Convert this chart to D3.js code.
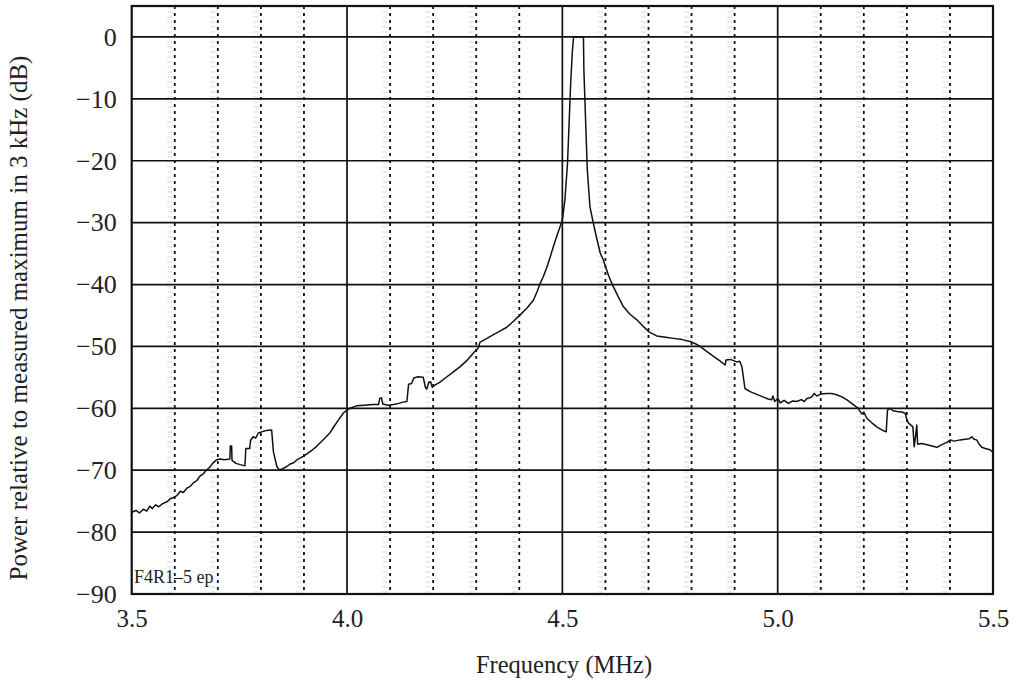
<!DOCTYPE html>
<html><head><meta charset="utf-8">
<script src="https://cdn.jsdelivr.net/npm/d3@7"></script>
<style>
html,body{margin:0;padding:0;background:#fff;}
svg text{font-family:"Liberation Serif","Times New Roman",serif;fill:#222;}
</style></head>
<body><svg id="chart" width="1015" height="682"></svg>
<script>
const freq = [3.500,3.510,3.518,3.527,3.535,3.542,3.548,3.555,3.563,3.572,3.582,3.590,3.597,3.605,3.613,3.620,3.628,3.636,3.644,3.651,3.658,3.666,3.673,3.680,3.688,3.697,3.705,3.715,3.728,3.729,3.732,3.733,3.742,3.752,3.763,3.765,3.774,3.776,3.782,3.788,3.794,3.802,3.812,3.825,3.829,3.837,3.842,3.850,3.860,3.868,3.876,3.884,3.892,3.900,3.910,3.920,3.930,3.940,3.950,3.961,3.970,3.980,3.991,4.000,4.010,4.022,4.040,4.060,4.073,4.076,4.080,4.083,4.095,4.108,4.120,4.130,4.139,4.143,4.150,4.155,4.165,4.177,4.182,4.185,4.190,4.194,4.198,4.203,4.215,4.232,4.247,4.262,4.278,4.293,4.305,4.309,4.325,4.340,4.356,4.371,4.387,4.402,4.418,4.433,4.441,4.448,4.456,4.464,4.472,4.479,4.488,4.495,4.500,4.506,4.512,4.516,4.519,4.523,4.526,4.549,4.550,4.555,4.558,4.564,4.572,4.580,4.588,4.595,4.607,4.618,4.630,4.642,4.657,4.673,4.687,4.700,4.719,4.740,4.758,4.778,4.797,4.810,4.820,4.835,4.851,4.865,4.878,4.880,4.890,4.905,4.912,4.917,4.924,4.936,4.950,4.967,4.978,4.986,4.989,4.993,5.000,5.006,5.015,5.025,5.035,5.044,5.055,5.062,5.068,5.078,5.085,5.091,5.100,5.114,5.125,5.137,5.150,5.160,5.172,5.187,5.195,5.200,5.207,5.218,5.230,5.242,5.252,5.255,5.261,5.268,5.277,5.288,5.296,5.300,5.304,5.314,5.317,5.320,5.323,5.325,5.335,5.347,5.358,5.370,5.380,5.393,5.401,5.410,5.424,5.435,5.445,5.451,5.456,5.462,5.468,5.474,5.482,5.493,5.500];
const power = [-76.8,-76.5,-76.9,-76.3,-76.6,-75.8,-76.2,-75.6,-75.9,-75.4,-75.1,-74.6,-74.4,-74.1,-73.4,-73.6,-72.9,-72.6,-72.0,-71.7,-71.0,-70.6,-70.0,-69.6,-68.9,-68.3,-68.2,-68.3,-68.2,-66.1,-66.1,-68.4,-68.9,-69.1,-69.3,-66.5,-66.5,-65.2,-64.6,-64.8,-64.0,-63.8,-63.6,-63.5,-67.0,-69.4,-69.9,-69.8,-69.4,-69.0,-68.8,-68.3,-68.0,-67.7,-67.2,-66.7,-66.1,-65.4,-64.7,-63.9,-62.9,-61.9,-60.8,-60.3,-59.9,-59.6,-59.5,-59.4,-59.4,-58.4,-58.3,-59.3,-59.5,-59.4,-59.2,-59.0,-58.9,-56.1,-56.0,-55.1,-54.9,-55.0,-56.6,-56.9,-55.8,-55.7,-56.6,-56.3,-55.8,-54.9,-54.1,-53.3,-52.3,-51.1,-50.2,-49.3,-48.7,-48.1,-47.5,-46.9,-45.9,-44.9,-43.8,-42.5,-41.2,-39.9,-38.7,-37.2,-35.5,-33.9,-32.0,-30.6,-29.6,-26.3,-20.4,-13.4,-8.0,-2.6,0,0,-5.3,-15.6,-21.5,-27.4,-30.1,-32.6,-34.9,-36.0,-38.5,-40.3,-42.0,-43.6,-44.8,-45.7,-46.7,-47.6,-48.3,-48.5,-48.7,-48.9,-49.2,-49.6,-50.0,-50.8,-51.6,-52.3,-53.0,-52.2,-52.1,-52.5,-52.4,-53.3,-56.8,-57.3,-57.7,-58.2,-58.5,-58.6,-58.0,-58.9,-58.4,-59.1,-58.7,-59.2,-58.8,-58.9,-58.6,-58.9,-58.4,-58.2,-57.6,-58.0,-57.7,-57.6,-57.6,-57.8,-58.2,-58.6,-59.2,-60.0,-60.9,-60.6,-61.6,-62.3,-63.0,-63.5,-63.8,-60.3,-60.0,-60.4,-60.5,-60.6,-60.8,-61.8,-62.4,-63.0,-66.2,-64.6,-62.7,-65.8,-65.7,-65.9,-66.1,-66.3,-65.9,-65.5,-65.1,-65.3,-65.1,-65.0,-64.9,-64.6,-65.0,-65.1,-65.8,-66.3,-66.5,-66.7,-67.1];
const xTicks = [3.5, 4.0, 4.5, 5.0, 5.5];
const yTicks = [0, -10, -20, -30, -40, -50, -60, -70, -80, -90];
const majorX = [4.0, 4.5, 5.0];
const minorX = [3.6,3.7,3.8,3.9,4.1,4.2,4.3,4.4,4.6,4.7,4.8,4.9,5.1,5.2,5.3,5.4];
const xTitle = "Frequency (MHz)";
const yTitle = "Power relative to measured maximum in 3 kHz (dB)";
const note = "F4R1–5 ep";

const svg = d3.select("#chart");
const L = 131.7, R = 993, T = 6, B = 594;
const x = d3.scaleLinear().domain([3.5, 5.5]).range([L, R]);
const y = d3.scaleLinear().domain([-90, 5]).range([B, T]);
const FONT = '"Liberation Serif","Times New Roman",serif';

// faint scan shading beside the dashed lines
svg.append("g").selectAll("line").data(minorX).join("line")
  .attr("x1", d => x(d) - 5).attr("x2", d => x(d) - 5).attr("y1", T).attr("y2", B)
  .attr("stroke", "#ececec").attr("stroke-width", 5).attr("stroke-dasharray", "2,3");

// minor dashed verticals
svg.append("g").selectAll("line").data(minorX).join("line")
  .attr("x1", d => x(d)).attr("x2", d => x(d)).attr("y1", T).attr("y2", B)
  .attr("stroke", "#111").attr("stroke-width", 1.8).attr("stroke-dasharray", "3,4");
// major verticals
svg.append("g").selectAll("line").data(majorX).join("line")
  .attr("x1", d => x(d)).attr("x2", d => x(d)).attr("y1", T).attr("y2", B)
  .attr("stroke", "#111").attr("stroke-width", 1.7);
// horizontals
svg.append("g").selectAll("line").data(yTicks.filter(d => d > -90)).join("line")
  .attr("x1", L).attr("x2", R).attr("y1", d => y(d)).attr("y2", d => y(d))
  .attr("stroke", "#111").attr("stroke-width", 1.7);
// frame
svg.append("rect").attr("x", L).attr("y", T).attr("width", R - L).attr("height", B - T)
  .attr("fill", "none").attr("stroke", "#111").attr("stroke-width", 2.2);

// data line
const data = freq.map((f, i) => [f, power[i]]);
svg.append("path").datum(data)
  .attr("fill", "none").attr("stroke", "#111").attr("stroke-width", 1.5)
  .attr("stroke-linejoin", "round")
  .attr("d", d3.line().x(d => x(d[0])).y(d => y(d[1])));

// axes (labels only)
const fmtY = d => (d < 0 ? "\u2212" + Math.abs(d) : String(d));
const ax = svg.append("g").attr("transform", `translate(0,${B})`)
  .call(d3.axisBottom(x).tickValues(xTicks).tickFormat(d3.format(".1f")).tickSize(0).tickPadding(15));
ax.select(".domain").remove();
ax.selectAll("text").attr("font-size", 25).attr("font-family", FONT).attr("fill", "#222");
const ay = svg.append("g").attr("transform", `translate(${L},0)`)
  .call(d3.axisLeft(y).tickValues(yTicks).tickFormat(fmtY).tickSize(0).tickPadding(15));
ay.select(".domain").remove();
ay.selectAll("text").attr("font-size", 26).attr("font-family", FONT).attr("fill", "#222");

// titles
svg.append("text").attr("x", 564).attr("y", 673).attr("text-anchor", "middle")
  .attr("font-size", 24.5).text(xTitle);
svg.append("text").attr("transform", `translate(27,318) rotate(-90)`)
  .attr("text-anchor", "middle").attr("font-size", 25).text(yTitle);
svg.append("text").attr("x", 134).attr("y", 583).attr("font-size", 18).attr("fill", "#333").text(note);
</script></body></html>
